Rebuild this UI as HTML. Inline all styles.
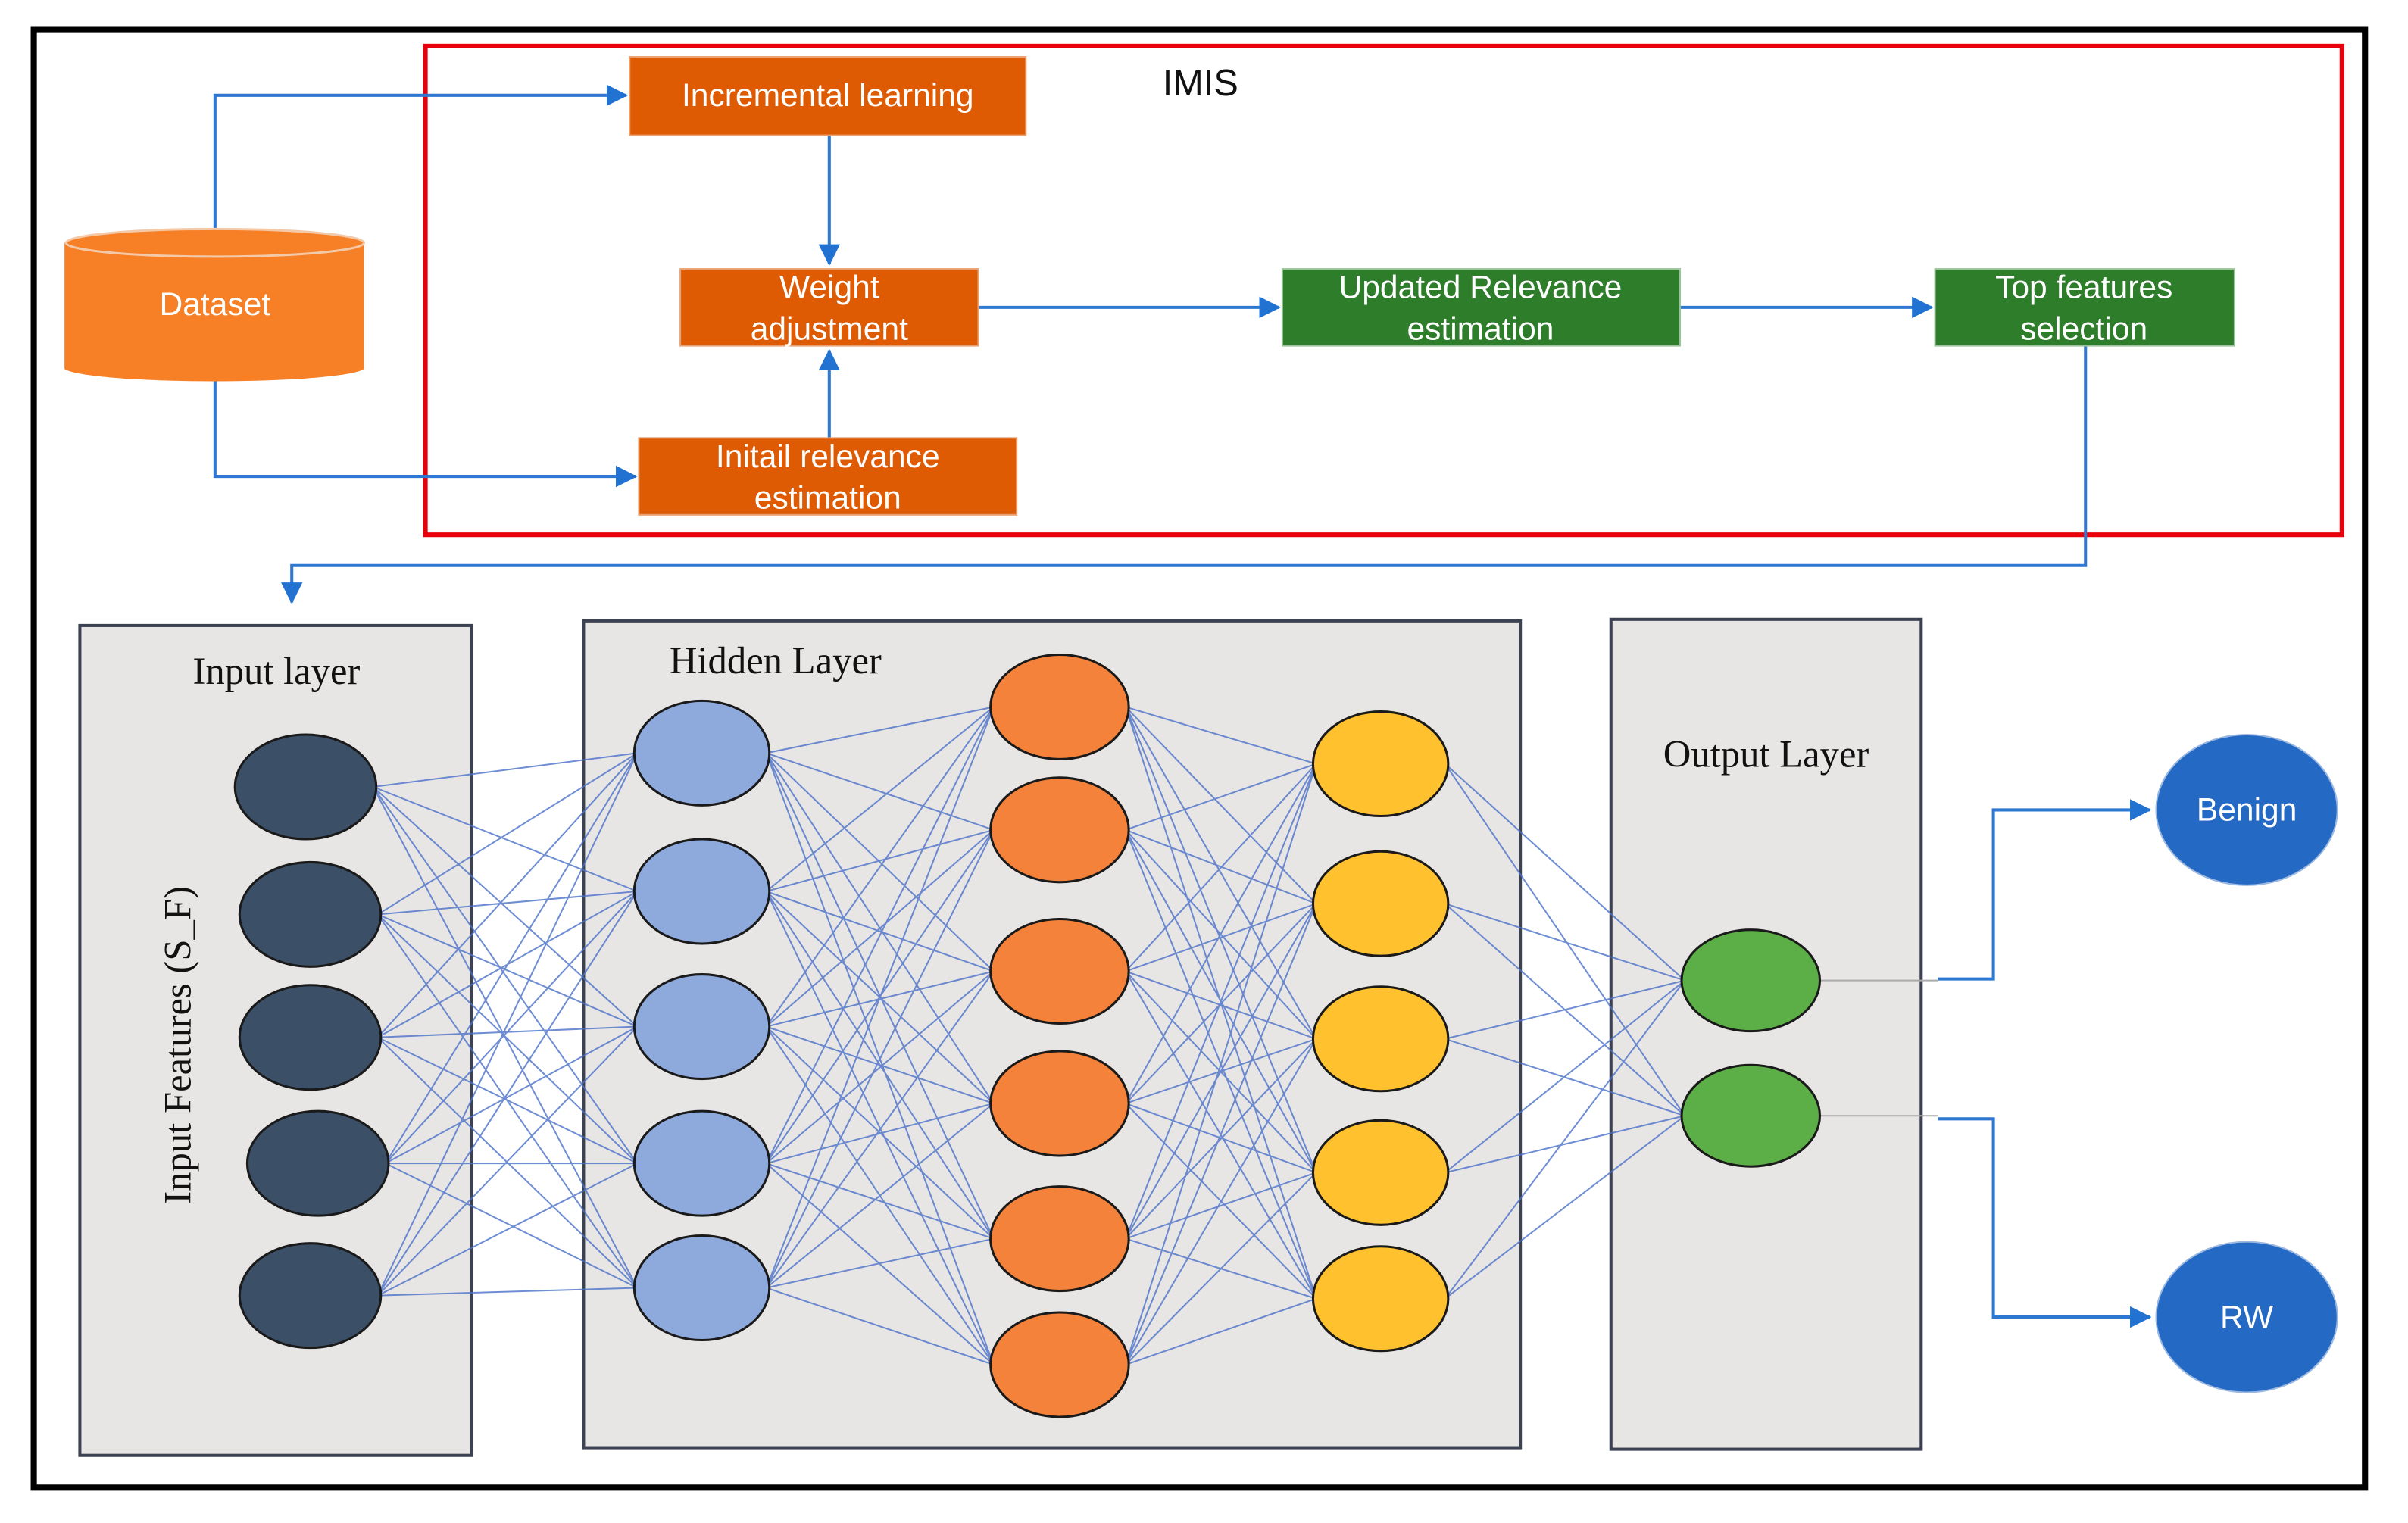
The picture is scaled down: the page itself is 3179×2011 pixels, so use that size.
<!DOCTYPE html>
<html><head><meta charset="utf-8"><style>
html,body{margin:0;padding:0;background:#fff;}
svg{display:block;}
</style></head><body>
<svg width="3179" height="2011" viewBox="0 0 1568 991" preserveAspectRatio="none" xmlns="http://www.w3.org/2000/svg">
<defs>
<marker id="a" markerWidth="14" markerHeight="14" refX="13" refY="7" orient="auto" markerUnits="userSpaceOnUse" viewBox="0 0 14 14"><path d="M0,0 L14,7 L0,14 z" fill="#2272D2"/></marker>
</defs>
<rect x="0" y="0" width="1568" height="991" fill="#fff"/>
<rect x="22" y="19" width="1518" height="949" fill="#fff" stroke="#000" stroke-width="4"/>
<rect x="277" y="30" width="1248" height="318" fill="none" stroke="#E8000B" stroke-width="3"/>
<g stroke="#2E78D2" stroke-width="2" fill="none">
<path d="M140,150 V62 H408" marker-end="url(#a)"/>
<path d="M140,248 V310 H414" marker-end="url(#a)"/>
<path d="M540,88 V172" marker-end="url(#a)"/>
<path d="M540,285 V228" marker-end="url(#a)"/>
<path d="M637,200 H833" marker-end="url(#a)"/>
<path d="M1094,200 H1258" marker-end="url(#a)"/>
<path d="M1358,225 V368 H190 V392" marker-end="url(#a)"/>
<path d="M1262,637 H1298 V527 H1400" marker-end="url(#a)"/>
<path d="M1262,728 H1298 V857 H1400" marker-end="url(#a)"/>
</g>
<path d="M42,158 V240 A98,9 0 0 0 237,240 V158 Z" fill="#F77F26"/>
<ellipse cx="140" cy="158" rx="97" ry="9" fill="#F77F26" stroke="#f4c9a8" stroke-width="1.5"/>
<g font-family="Liberation Sans, sans-serif" fill="#fff" font-size="21" text-anchor="middle">
<text x="140" y="205">Dataset</text>
<rect x="410" y="37" width="258" height="51" fill="#DE5A03" stroke="#e9a070"/>
<text x="539" y="69">Incremental learning</text>
<rect x="443" y="175" width="194" height="50" fill="#DE5A03" stroke="#e9a070"/>
<text x="540" y="194">Weight</text><text x="540" y="221">adjustment</text>
<rect x="416" y="285" width="246" height="50" fill="#DE5A03" stroke="#e9a070"/>
<text x="539" y="304">Initail  relevance</text><text x="539" y="331">estimation</text>
<rect x="835" y="175" width="259" height="50" fill="#2E7D2B" stroke="#9bc29a"/>
<text x="964" y="194">Updated Relevance</text><text x="964" y="221">estimation</text>
<rect x="1260" y="175" width="195" height="50" fill="#2E7D2B" stroke="#9bc29a"/>
<text x="1357" y="194">Top features</text><text x="1357" y="221">selection</text>
</g>
<text x="757" y="62" font-family="Liberation Sans, sans-serif" font-size="24" fill="#111">IMIS</text>
<g fill="#E8E5E5" stroke="#3c4252" stroke-width="2">
<rect x="52" y="407" width="255" height="540"/>
<rect x="380" y="404" width="610" height="538"/>
<rect x="1049" y="403" width="202" height="540"/>
</g>
<g font-family="Liberation Serif, serif" font-size="25" fill="#111">
<text x="180" y="445" text-anchor="middle">Input layer</text>
<text x="505" y="438" text-anchor="middle">Hidden Layer</text>
<text x="1150" y="499" text-anchor="middle">Output Layer</text>
<text transform="translate(124,680) rotate(-90)" text-anchor="middle">Input Features (S_F)</text>
</g>
<g stroke="#4A70C8" stroke-width="1" opacity="0.8" fill="none">
<path d="M243 512L415 490M243 512L415 580M243 512L415 668M243 512L415 757M243 512L415 838
M246 595L415 490M246 595L415 580M246 595L415 668M246 595L415 757M246 595L415 838
M246 675L415 490M246 675L415 580M246 675L415 668M246 675L415 757M246 675L415 838
M251 757L415 490M251 757L415 580M251 757L415 668M251 757L415 757M251 757L415 838
M246 843L415 490M246 843L415 580M246 843L415 668M246 843L415 757M246 843L415 838"/>
<path d="M499 490L647 460M499 490L647 540M499 490L647 632M499 490L647 718M499 490L647 806M499 490L647 888
M499 580L647 460M499 580L647 540M499 580L647 632M499 580L647 718M499 580L647 806M499 580L647 888
M499 668L647 460M499 668L647 540M499 668L647 632M499 668L647 718M499 668L647 806M499 668L647 888
M499 757L647 460M499 757L647 540M499 757L647 632M499 757L647 718M499 757L647 806M499 757L647 888
M499 838L647 460M499 838L647 540M499 838L647 632M499 838L647 718M499 838L647 806M499 838L647 888"/>
<path d="M733 460L857 497M733 460L857 588M733 460L857 676M733 460L857 763M733 460L857 845
M733 540L857 497M733 540L857 588M733 540L857 676M733 540L857 763M733 540L857 845
M733 632L857 497M733 632L857 588M733 632L857 676M733 632L857 763M733 632L857 845
M733 718L857 497M733 718L857 588M733 718L857 676M733 718L857 763M733 718L857 845
M733 806L857 497M733 806L857 588M733 806L857 676M733 806L857 763M733 806L857 845
M733 888L857 497M733 888L857 588M733 888L857 676M733 888L857 763M733 888L857 845"/>
<path d="M941 497L1097 638M941 497L1097 726M941 588L1097 638M941 588L1097 726M941 676L1097 638M941 676L1097 726M941 763L1097 638M941 763L1097 726M941 845L1097 638M941 845L1097 726"/>
</g>
<line x1="1185" y1="638" x2="1262" y2="638" stroke="#aaa" stroke-width="1"/>
<line x1="1185" y1="726" x2="1262" y2="726" stroke="#aaa" stroke-width="1"/>
<g stroke="#1a1a1a" stroke-width="1.5">
<g fill="#3B4F66">
<ellipse cx="199" cy="512" rx="46" ry="34"/><ellipse cx="202" cy="595" rx="46" ry="34"/><ellipse cx="202" cy="675" rx="46" ry="34"/><ellipse cx="207" cy="757" rx="46" ry="34"/><ellipse cx="202" cy="843" rx="46" ry="34"/>
</g>
<g fill="#8EAADC">
<ellipse cx="457" cy="490" rx="44" ry="34"/><ellipse cx="457" cy="580" rx="44" ry="34"/><ellipse cx="457" cy="668" rx="44" ry="34"/><ellipse cx="457" cy="757" rx="44" ry="34"/><ellipse cx="457" cy="838" rx="44" ry="34"/>
</g>
<g fill="#F4823A">
<ellipse cx="690" cy="460" rx="45" ry="34"/><ellipse cx="690" cy="540" rx="45" ry="34"/><ellipse cx="690" cy="632" rx="45" ry="34"/><ellipse cx="690" cy="718" rx="45" ry="34"/><ellipse cx="690" cy="806" rx="45" ry="34"/><ellipse cx="690" cy="888" rx="45" ry="34"/>
</g>
<g fill="#FFC12E">
<ellipse cx="899" cy="497" rx="44" ry="34"/><ellipse cx="899" cy="588" rx="44" ry="34"/><ellipse cx="899" cy="676" rx="44" ry="34"/><ellipse cx="899" cy="763" rx="44" ry="34"/><ellipse cx="899" cy="845" rx="44" ry="34"/>
</g>
<g fill="#5CAE46">
<ellipse cx="1140" cy="638" rx="45" ry="33"/><ellipse cx="1140" cy="726" rx="45" ry="33"/>
</g>
</g>
<ellipse cx="1463" cy="527" rx="59" ry="49" fill="#2469C4" stroke="#9bb8e0"/>
<ellipse cx="1463" cy="857" rx="59" ry="49" fill="#2469C4" stroke="#9bb8e0"/>
<g font-family="Liberation Sans, sans-serif" fill="#fff" font-size="21" text-anchor="middle">
<text x="1463" y="534">Benign</text><text x="1463" y="864">RW</text>
</g>
</svg>
</body></html>
